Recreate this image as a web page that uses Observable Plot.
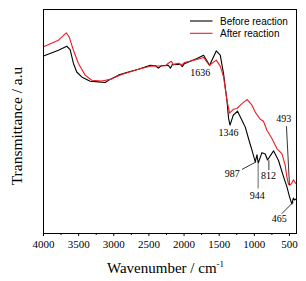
<!DOCTYPE html>
<html>
<head>
<meta charset="utf-8">
<script src="https://cdn.jsdelivr.net/npm/d3@7"></script>
<script src="https://cdn.jsdelivr.net/npm/@observablehq/plot@0.6"></script>
<style>
  html, body { margin: 0; padding: 0; background: #fff; }
  #chart { width: 306px; height: 281px; }
  #chart svg, #chart svg text { font-family: 'Liberation Serif', 'Times New Roman', serif; }
</style>
</head>
<body>
<div id="chart"></div>
<script>
// ---- Data ----
const wnBefore = [4000, 3787, 3669, 3621, 3574, 3527, 3456, 3336, 3218, 3123, 3052, 2934, 2792, 2650, 2480,
  2408, 2366, 2323, 2224, 2195, 2167, 2053, 2025, 1996, 1816, 1722, 1636, 1542, 1485, 1438, 1414, 1390, 1367,
  1346, 1300, 1239, 1154, 1130, 1083, 1034, 987, 963, 944, 892, 845, 812, 727, 656, 585, 537, 500, 480, 465, 445, 430, 405];
const tBefore = [79.2, 81.8, 83.6, 82.1, 75.9, 72.1, 69.9, 68.0, 67.7, 67.4, 68.8, 70.7, 72.1, 73.3, 75.1,
  74.9, 73.8, 74.9, 75.1, 73.8, 75.4, 75.6, 74.5, 75.8, 78.1, 79.6, 75.1, 81.5, 79.6, 71.4, 65.4, 59.5, 51.5,
  48.4, 52.8, 54.6, 49.1, 47.6, 42.4, 37.2, 32.0, 35.1, 31.4, 36.1, 35.5, 32.8, 36.9, 32.6, 25.4, 20.9, 16.5, 14.5, 13.2, 15.8, 15.0, 15.4];

const wnAfter = [4000, 3787, 3677, 3635, 3574, 3503, 3407, 3314, 3172, 3052, 2887, 2650, 2480,
  2266, 2224, 2181, 2153, 2082, 2039, 1996, 1816, 1722, 1641, 1542, 1485, 1438, 1390, 1353, 1296, 1248,
  1176, 1101, 1034, 987, 916, 870, 821, 750, 679, 608, 561, 537, 514, 493, 466, 443, 423, 405];
const tAfter = [83.4, 86.3, 89.6, 87.8, 81.8, 75.9, 70.7, 68.4, 68.1, 68.8, 71.0, 73.3, 74.7,
  74.9, 76.0, 76.9, 75.4, 76.0, 75.1, 76.3, 77.7, 78.6, 75.1, 77.4, 74.7, 69.9, 59.5, 53.7, 55.5, 55.8,
  58.0, 59.8, 57.3, 54.2, 51.0, 50.1, 46.1, 42.4, 37.9, 35.7, 30.5, 25.3, 22.0, 21.6, 22.5, 24.0, 22.9, 22.3];

const seriesNames = ["Before reaction", "After reaction"];
const seriesColors = ["#000000", "#ee1c25"];

const xTicks = [4000, 3500, 3000, 2500, 2000, 1500, 1000, 500];
const xMinorTicks = [3750, 3250, 2750, 2250, 1750, 1250, 750];

// peak annotations
const annLabels = ["1636", "1346", "493", "987", "944", "812", "465"];
const annX = [1769, 1367, 580, 1314, 959, 799, 646];
const annY = [71.6, 45.1, 51.2, 26.8, 16.8, 25.9, 6.4];

// leader lines of annotations
const leadX1 = [543, 1176, 945, 793, 608];
const leadY1 = [47.9, 28.6, 31.2, 32.7, 8.9];
const leadX2 = [500, 973, 945, 793, 443];
const leadY2 = [21.6, 32.0, 20.1, 28.3, 14.1];
const leadGray = [false, false, true, false, false];

// ---- Build tables ----
const before = wnBefore.map((w, i) => ({wn: w, t: tBefore[i]}));
const after = wnAfter.map((w, i) => ({wn: w, t: tAfter[i]}));
const anns = annLabels.map((l, i) => ({label: l, x: annX[i], y: annY[i]}));
const leads = leadX1.map((x, i) => ({x1: x, y1: leadY1[i], x2: leadX2[i], y2: leadY2[i], gray: leadGray[i]}));

const SERIF = "Liberation Serif";

const plot = Plot.plot({
  width: 306,
  height: 281,
  marginLeft: 43,
  marginRight: 10,
  marginTop: 9,
  marginBottom: 48,
  style: "font-family: 'Liberation Serif', serif; font-size: 11px; color: #000; background: #fff; overflow: visible;",
  x: {domain: [4000, 400]},
  y: {domain: [0, 100]},
  marks: [
    Plot.axisX({ticks: xMinorTicks, tickSize: 2, tickFormat: () => "", label: null}),
    Plot.axisX({ticks: xTicks, tickSize: 3, tickPadding: 4, tickFormat: d => String(d), label: null, fontSize: 11, fontFamily: SERIF}),
    Plot.axisY({ticks: [], label: null}),
    Plot.line(before, {x: "wn", y: "t", stroke: seriesColors[0], strokeWidth: 1.1}),
    Plot.line(after, {x: "wn", y: "t", stroke: seriesColors[1], strokeWidth: 1.1}),
    Plot.link(leads, {x1: "x1", y1: "y1", x2: "x2", y2: "y2", stroke: d => d.gray ? "#9a9a9a" : "#000", strokeWidth: d => d.gray ? 1.5 : 0.8}),
    Plot.text(anns, {x: "x", y: "y", text: "label", fontSize: 10, fontFamily: SERIF, fill: "#000"}),
    Plot.frame({stroke: "#000", strokeWidth: 1})
  ]
});

document.getElementById("chart").appendChild(plot);

// ---- Decorations: axis titles and legend ----
const svg = d3.select(plot);
const xl = svg.append("text")
  .attr("x", 107).attr("y", 273)
  .attr("text-anchor", "start")
  .attr("font-family", "'Liberation Serif', 'Times New Roman', serif")
  .attr("font-size", 15).attr("fill", "#000");
xl.append("tspan").text("Wavenumber / cm");
xl.append("tspan").attr("dy", -6).attr("font-size", 9).text("-1");

svg.append("text")
  .attr("transform", "translate(22,126) rotate(-90)")
  .attr("text-anchor", "middle")
  .attr("font-family", "'Liberation Serif', 'Times New Roman', serif")
  .attr("font-size", 15.5).attr("fill", "#000")
  .text("Transmittance / a.u");

const lg = svg.append("g");
seriesNames.forEach((name, i) => {
  const yy = 21 + i * 12.3;
  lg.append("line").attr("x1", 190).attr("x2", 212.5).attr("y1", yy).attr("y2", yy)
    .attr("stroke", seriesColors[i]).attr("stroke-width", 1.1);
  lg.append("text").attr("x", 220).attr("y", yy).attr("dy", "0.35em")
    .attr("text-anchor", "start")
    .style("font-family", "'Liberation Sans', Arial, sans-serif")
    .attr("font-size", 10).attr("fill", "#000").text(name);
});
</script>
</body>
</html>
